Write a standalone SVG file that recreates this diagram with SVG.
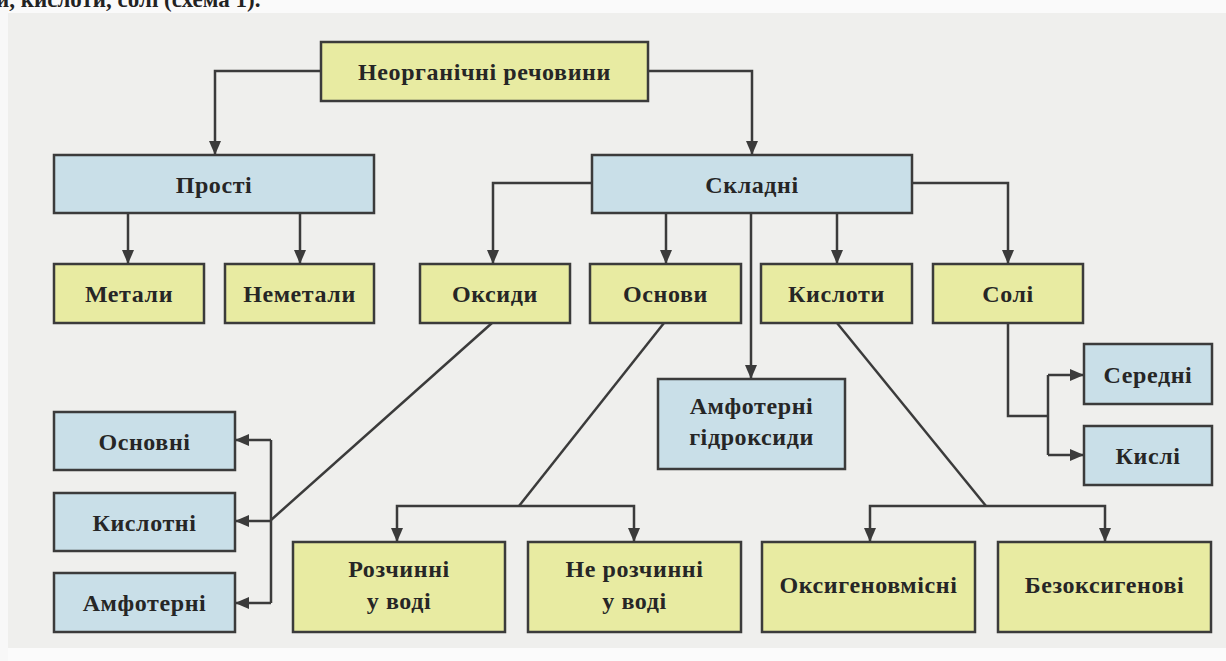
<svg xmlns="http://www.w3.org/2000/svg" width="1226" height="661" viewBox="0 0 1226 661">
<style>
.y{fill:#e8eba2;stroke:#3b3b3b;stroke-width:2.5}
.b{fill:#c9dfe8;stroke:#3b3b3b;stroke-width:2.5}
.t{font-family:"Liberation Serif","DejaVu Serif",serif;font-weight:bold;font-size:24px;letter-spacing:0.6px;fill:#262626;text-anchor:middle}
.c{fill:none;stroke:#3b3b3b;stroke-width:2.5}
</style>
<defs>
<marker id="ah" markerUnits="userSpaceOnUse" markerWidth="14" markerHeight="14" viewBox="0 0 14 14" refX="13" refY="7" orient="auto">
<path d="M0,1 L14,7 L0,13 Z" fill="#3b3b3b"/>
</marker>
</defs>
<rect x="0" y="0" width="1226" height="661" fill="#efefed"/>
<rect x="0" y="0" width="1226" height="13" fill="#fafafa"/>
<rect x="0" y="648" width="1226" height="13" fill="#fbfbfb"/>
<rect x="0" y="0" width="8" height="661" fill="#f8f8f8"/>
<text x="-4" y="7" style="font-family:'Liberation Serif',serif;font-weight:bold;font-size:23px;fill:#222">и, кислоти, солі (схема 1).</text>

<g id="connectors">
<path class="c" d="M321,71 H215 V154" marker-end="url(#ah)"/>
<path class="c" d="M648,71 H752 V154" marker-end="url(#ah)"/>
<path class="c" d="M128,213 V263" marker-end="url(#ah)"/>
<path class="c" d="M300,213 V263" marker-end="url(#ah)"/>
<path class="c" d="M592,183 H493 V263" marker-end="url(#ah)"/>
<path class="c" d="M666,213 V263" marker-end="url(#ah)"/>
<path class="c" d="M751,213 V378" marker-end="url(#ah)"/>
<path class="c" d="M837,213 V263" marker-end="url(#ah)"/>
<path class="c" d="M912,183 H1008 V263" marker-end="url(#ah)"/>
<path class="c" d="M492,323 L271,520"/>
<path class="c" d="M271,440 V603"/>
<path class="c" d="M271,440 H236" marker-end="url(#ah)"/>
<path class="c" d="M271,521 H236" marker-end="url(#ah)"/>
<path class="c" d="M271,603 H236" marker-end="url(#ah)"/>
<path class="c" d="M664,323 L519,506"/>
<path class="c" d="M519,506 H397 V541" marker-end="url(#ah)"/>
<path class="c" d="M519,506 H634 V541" marker-end="url(#ah)"/>
<path class="c" d="M837,323 L986,506"/>
<path class="c" d="M986,506 H870 V541" marker-end="url(#ah)"/>
<path class="c" d="M986,506 H1105 V541" marker-end="url(#ah)"/>
<path class="c" d="M1008,323 V416 H1048"/>
<path class="c" d="M1048,375 V455"/>
<path class="c" d="M1048,375 H1083" marker-end="url(#ah)"/>
<path class="c" d="M1048,455 H1083" marker-end="url(#ah)"/>
</g>

<g id="n-neorg"><rect class="y" x="321" y="42" width="327" height="59"/><text class="t" x="484.5" y="80">Неорганічні речовини</text></g>
<g id="n-prosti"><rect class="b" x="54" y="155" width="320" height="58"/><text class="t" x="214" y="193">Прості</text></g>
<g id="n-skladni"><rect class="b" x="592" y="155" width="320" height="58"/><text class="t" x="752" y="193">Складні</text></g>
<g id="n-metaly"><rect class="y" x="54" y="264" width="150" height="59"/><text class="t" x="129" y="302">Метали</text></g>
<g id="n-nemetaly"><rect class="y" x="225" y="264" width="149" height="59"/><text class="t" x="299.5" y="302">Неметали</text></g>
<g id="n-oksydy"><rect class="y" x="420" y="264" width="150" height="59"/><text class="t" x="495" y="302">Оксиди</text></g>
<g id="n-osnovy"><rect class="y" x="590" y="264" width="151" height="59"/><text class="t" x="665.5" y="302">Основи</text></g>
<g id="n-kysloty"><rect class="y" x="761" y="264" width="151" height="59"/><text class="t" x="836.5" y="302">Кислоти</text></g>
<g id="n-soli"><rect class="y" x="933" y="264" width="150" height="59"/><text class="t" x="1008" y="302">Солі</text></g>
<g id="n-amfhydr"><rect class="b" x="658" y="379" width="187" height="90"/><text class="t" x="751.5" y="414">Амфотерні</text><text class="t" x="751.5" y="445">гідроксиди</text></g>
<g id="n-seredni"><rect class="b" x="1084" y="344" width="128" height="60"/><text class="t" x="1148" y="383">Середні</text></g>
<g id="n-kysli"><rect class="b" x="1084" y="426" width="128" height="59"/><text class="t" x="1148" y="464">Кислі</text></g>
<g id="n-osnovni"><rect class="b" x="54" y="412" width="181" height="58"/><text class="t" x="144.5" y="450">Основні</text></g>
<g id="n-kyslotni"><rect class="b" x="54" y="493" width="181" height="58"/><text class="t" x="144.5" y="531">Кислотні</text></g>
<g id="n-amfoterni"><rect class="b" x="54" y="573" width="181" height="59"/><text class="t" x="144.5" y="611">Амфотерні</text></g>
<g id="n-rozchynni"><rect class="y" x="293" y="542" width="212" height="90"/><text class="t" x="399" y="577">Розчинні</text><text class="t" x="399" y="609">у воді</text></g>
<g id="n-nerozchynni"><rect class="y" x="528" y="542" width="213" height="90"/><text class="t" x="634.5" y="577">Не розчинні</text><text class="t" x="634.5" y="609">у воді</text></g>
<g id="n-oksygen"><rect class="y" x="762" y="542" width="213" height="90"/><text class="t" x="868.5" y="593">Оксигеновмісні</text></g>
<g id="n-bezoksygen"><rect class="y" x="998" y="542" width="213" height="90"/><text class="t" x="1104.5" y="593">Безоксигенові</text></g>
</svg>
